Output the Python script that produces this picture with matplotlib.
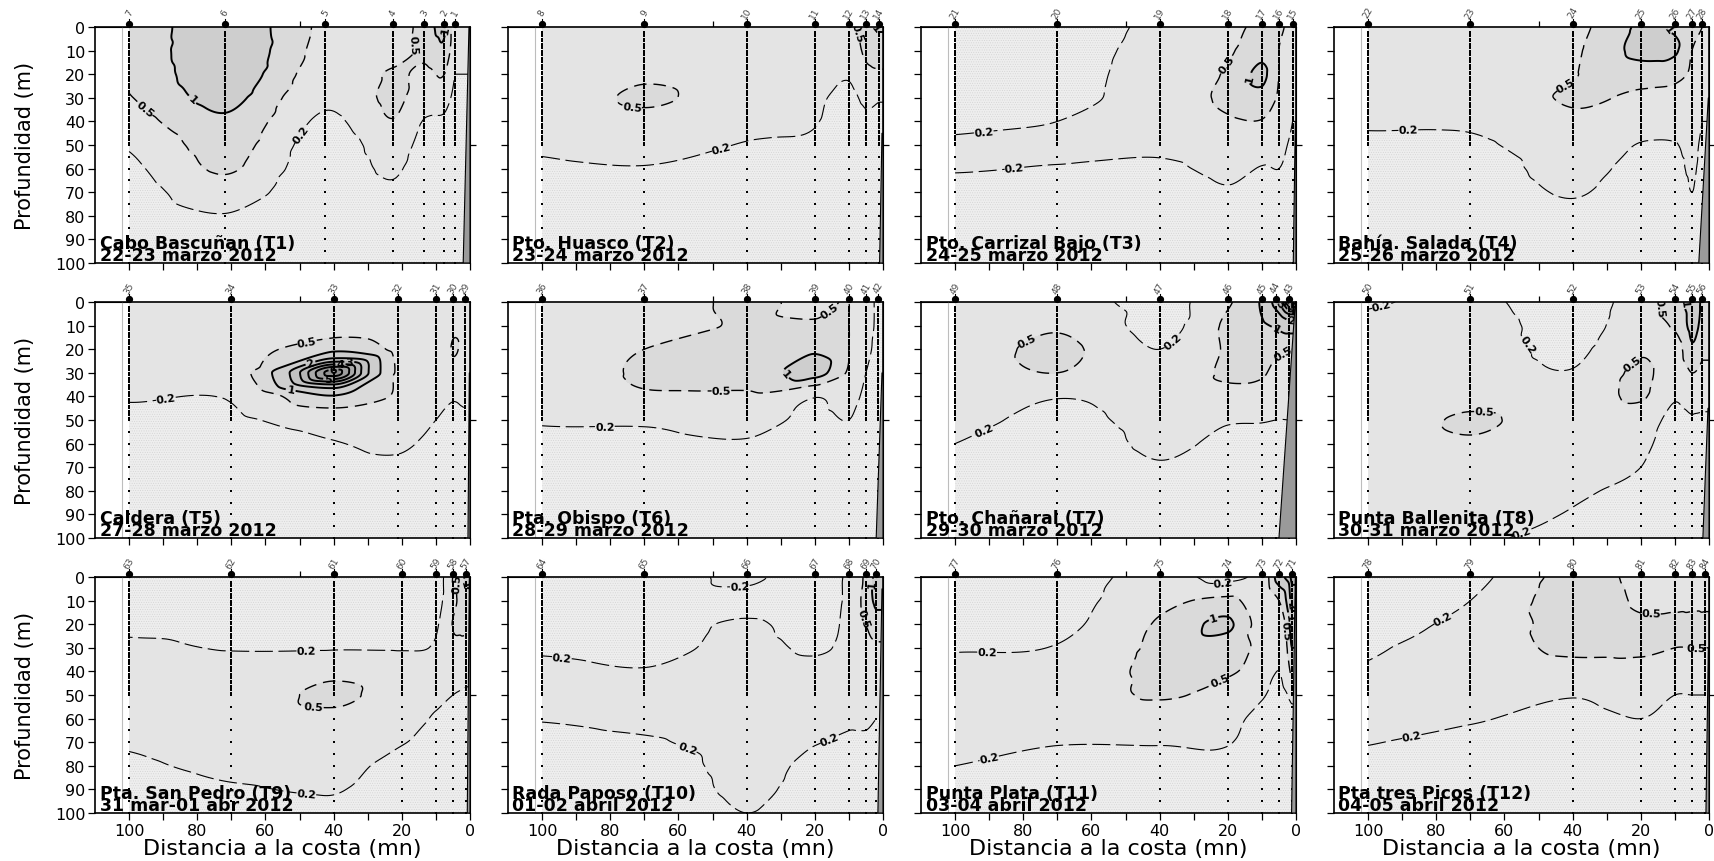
import numpy as np
import matplotlib
matplotlib.use("Agg")
import matplotlib.pyplot as plt
import matplotlib.tri as mtri
from matplotlib.patches import Polygon

plt.rcParams['font.family'] = ['DejaVu Sans']
plt.rcParams['lines.scale_dashes'] = False
plt.rcParams['hatch.color'] = '#d2d2d2'
plt.rcParams['hatch.linewidth'] = 0.35

# Sampling depths (m) shared by every profile
DEPTHS = [0, 10, 20, 30, 40, 50, 60, 70, 80, 90, 100]

# ---- Transect metadata -------------------------------------------------
titles = ["Cabo Bascuñan (T1)", "Pto. Huasco (T2)", "Pto. Carrizal Bajo (T3)",
          "Bahía. Salada (T4)", "Caldera (T5)", "Pta. Obispo (T6)",
          "Pto. Chañaral (T7)", "Punta Ballenita (T8)", "Pta. San Pedro (T9)",
          "Rada Paposo (T10)", "Punta Plata (T11)", "Pta tres Picos (T12)"]
dates = ["22-23 marzo 2012", "23-24 marzo 2012", "24-25 marzo 2012",
         "25-26 marzo 2012", "27-28 marzo 2012", "28-29 marzo 2012",
         "29-30 marzo 2012", "30-31 marzo 2012", "31 mar-01 abr 2012",
         "01-02 abril 2012", "03-04 abril 2012", "04-05 abril 2012"]

# Station numbers (offshore -> coast) and distance to coast (mn)
stations_t1 = [7, 6, 5, 4, 3, 2, 1]
dist_t1 = [100, 72, 42.5, 22.6, 13.4, 7.5, 4.4]
stations_t2 = [8, 9, 10, 11, 12, 13, 14]
dist_t2 = [100, 70, 40, 20, 10, 5, 1.2]
stations_t3 = [21, 20, 19, 18, 17, 16, 15]
dist_t3 = [100, 70, 40, 20, 10, 5, 1]
stations_t4 = [22, 23, 24, 25, 26, 27, 28]
dist_t4 = [100, 70, 40, 20, 10, 5, 2]
stations_t5 = [35, 34, 33, 32, 31, 30, 29]
dist_t5 = [100, 70, 40, 21, 10, 5, 1.5]
stations_t6 = [36, 37, 38, 39, 40, 41, 42]
dist_t6 = [100, 70, 40, 20, 10, 5, 1.4]
stations_t7 = [49, 48, 47, 46, 45, 44, 43]
dist_t7 = [100, 70, 40, 20, 10, 6, 2]
stations_t8 = [50, 51, 52, 53, 54, 55, 56]
dist_t8 = [100, 70, 40, 20, 10, 5, 2]
stations_t9 = [63, 62, 61, 60, 59, 58, 57]
dist_t9 = [100, 70, 40, 20, 10, 5, 1.2]
stations_t10 = [64, 65, 66, 67, 68, 69, 70]
dist_t10 = [100, 70, 40, 20, 10, 5, 2]
stations_t11 = [77, 76, 75, 74, 73, 72, 71]
dist_t11 = [100, 70, 40, 20, 10, 5, 1.3]
stations_t12 = [78, 79, 80, 81, 82, 83, 84]
dist_t12 = [100, 70, 40, 20, 10, 5, 1.1]

# Chlorophyll-a (mg/m3): one profile per station, values at DEPTHS
chl_t1 = [[0.62, 0.60, 0.55, 0.48, 0.35, 0.22, 0.16, 0.12, 0.10, 0.08, 0.07],
          [1.5, 1.6, 1.5, 1.2, 0.9, 0.7, 0.55, 0.35, 0.19, 0.12, 0.10],
          [0.42, 0.38, 0.32, 0.24, 0.17, 0.12, 0.10, 0.08, 0.07, 0.06, 0.05],
          [0.30, 0.35, 0.55, 0.60, 0.48, 0.32, 0.24, 0.16, 0.11, 0.09, 0.07],
          [0.70, 0.60, 0.42, 0.30, 0.19, 0.14, 0.10, 0.08, 0.07, 0.06, 0.05],
          [1.1, 0.85, 0.50, 0.28, 0.17, 0.12, 0.10, 0.08, 0.07, 0.06, 0.05],
          [0.30, 0.25, 0.20, 0.15, 0.12, 0.10, 0.08, 0.07, 0.06, 0.05, 0.05]]
chl_t2 = [[0.30, 0.30, 0.30, 0.30, 0.28, 0.23, 0.17, 0.12, 0.10, 0.08, 0.07],
          [0.35, 0.38, 0.45, 0.55, 0.40, 0.28, 0.19, 0.13, 0.10, 0.08, 0.07],
          [0.30, 0.30, 0.30, 0.30, 0.25, 0.19, 0.13, 0.10, 0.08, 0.07, 0.06],
          [0.30, 0.30, 0.28, 0.23, 0.21, 0.17, 0.12, 0.10, 0.08, 0.07, 0.06],
          [0.40, 0.30, 0.22, 0.16, 0.12, 0.10, 0.08, 0.07, 0.06, 0.05, 0.05],
          [0.80, 0.60, 0.40, 0.25, 0.16, 0.12, 0.10, 0.08, 0.07, 0.06, 0.05],
          [1.1, 0.70, 0.45, 0.22, 0.15, 0.12, 0.10, 0.08, 0.07, 0.06, 0.05]]
chl_t3 = [[0.12, 0.13, 0.14, 0.15, 0.17, 0.22, 0.21, 0.15, 0.12, 0.10, 0.08],
          [0.13, 0.14, 0.15, 0.16, 0.20, 0.24, 0.19, 0.14, 0.11, 0.09, 0.08],
          [0.25, 0.28, 0.30, 0.30, 0.30, 0.24, 0.17, 0.12, 0.10, 0.08, 0.07],
          [0.40, 0.45, 0.55, 0.60, 0.45, 0.32, 0.25, 0.18, 0.12, 0.10, 0.08],
          [0.60, 0.80, 1.15, 0.80, 0.48, 0.30, 0.19, 0.13, 0.10, 0.08, 0.07],
          [0.55, 0.50, 0.50, 0.45, 0.35, 0.26, 0.20, 0.14, 0.10, 0.08, 0.07],
          [0.40, 0.32, 0.30, 0.25, 0.20, 0.15, 0.12, 0.10, 0.08, 0.07, 0.06]]
chl_t4 = [[0.30, 0.30, 0.30, 0.28, 0.22, 0.17, 0.12, 0.10, 0.08, 0.07, 0.06],
          [0.30, 0.30, 0.30, 0.30, 0.23, 0.17, 0.12, 0.10, 0.08, 0.07, 0.06],
          [0.40, 0.45, 0.48, 0.55, 0.42, 0.35, 0.30, 0.22, 0.15, 0.10, 0.08],
          [1.1, 1.2, 0.70, 0.42, 0.30, 0.19, 0.13, 0.10, 0.08, 0.07, 0.06],
          [0.90, 1.1, 0.60, 0.40, 0.30, 0.19, 0.14, 0.10, 0.08, 0.07, 0.06],
          [0.60, 0.50, 0.45, 0.35, 0.30, 0.27, 0.24, 0.20, 0.15, 0.10, 0.08],
          [0.50, 0.40, 0.30, 0.25, 0.20, 0.15, 0.12, 0.10, 0.08, 0.07, 0.06]]
chl_t5 = [[0.30, 0.30, 0.30, 0.30, 0.22, 0.15, 0.10, 0.08, 0.07, 0.06, 0.05],
          [0.30, 0.30, 0.35, 0.35, 0.22, 0.17, 0.12, 0.10, 0.08, 0.07, 0.06],
          [0.30, 0.35, 0.85, 6.5, 0.95, 0.30, 0.19, 0.14, 0.10, 0.08, 0.07],
          [0.35, 0.30, 0.40, 0.45, 0.45, 0.35, 0.24, 0.16, 0.12, 0.10, 0.08],
          [0.30, 0.30, 0.30, 0.30, 0.25, 0.20, 0.14, 0.10, 0.08, 0.07, 0.06],
          [0.40, 0.45, 0.52, 0.40, 0.22, 0.15, 0.11, 0.09, 0.07, 0.06, 0.05],
          [0.40, 0.40, 0.40, 0.35, 0.25, 0.16, 0.12, 0.09, 0.07, 0.06, 0.05]]
chl_t6 = [[0.30, 0.30, 0.30, 0.30, 0.30, 0.22, 0.15, 0.10, 0.08, 0.07, 0.06],
          [0.30, 0.32, 0.50, 0.55, 0.45, 0.23, 0.15, 0.11, 0.09, 0.07, 0.06],
          [0.60, 0.55, 0.60, 0.60, 0.45, 0.30, 0.18, 0.12, 0.10, 0.08, 0.07],
          [0.40, 0.55, 0.90, 1.3, 0.21, 0.15, 0.10, 0.08, 0.07, 0.06, 0.05],
          [0.50, 0.50, 0.50, 0.45, 0.30, 0.20, 0.14, 0.10, 0.08, 0.07, 0.06],
          [0.30, 0.30, 0.25, 0.20, 0.15, 0.10, 0.08, 0.07, 0.06, 0.05, 0.05],
          [0.15, 0.15, 0.15, 0.12, 0.10, 0.08, 0.07, 0.06, 0.05, 0.05, 0.05]]
chl_t7 = [[0.30, 0.30, 0.30, 0.30, 0.30, 0.28, 0.20, 0.15, 0.10, 0.08, 0.07],
          [0.30, 0.45, 0.60, 0.50, 0.21, 0.15, 0.11, 0.09, 0.07, 0.06, 0.05],
          [0.15, 0.15, 0.20, 0.30, 0.35, 0.30, 0.25, 0.18, 0.12, 0.10, 0.08],
          [0.45, 0.60, 0.55, 0.55, 0.40, 0.22, 0.15, 0.11, 0.09, 0.07, 0.06],
          [1.1, 0.90, 0.60, 0.55, 0.35, 0.21, 0.15, 0.11, 0.09, 0.07, 0.06],
          [2.5, 1.1, 0.60, 0.40, 0.30, 0.20, 0.15, 0.11, 0.09, 0.07, 0.06],
          [6.5, 1.5, 0.50, 0.35, 0.25, 0.20, 0.15, 0.11, 0.09, 0.07, 0.06]]
chl_t8 = [[0.18, 0.25, 0.30, 0.30, 0.30, 0.30, 0.30, 0.30, 0.30, 0.25, 0.22],
          [0.25, 0.30, 0.30, 0.30, 0.38, 0.55, 0.45, 0.30, 0.25, 0.25, 0.22],
          [0.12, 0.14, 0.17, 0.21, 0.30, 0.30, 0.28, 0.25, 0.22, 0.19, 0.15],
          [0.35, 0.38, 0.45, 0.60, 0.55, 0.32, 0.25, 0.20, 0.15, 0.12, 0.10],
          [0.70, 0.55, 0.35, 0.30, 0.22, 0.15, 0.12, 0.10, 0.08, 0.07, 0.06],
          [1.3, 1.2, 0.90, 0.50, 0.30, 0.18, 0.13, 0.10, 0.08, 0.07, 0.06],
          [0.90, 0.80, 0.60, 0.40, 0.25, 0.18, 0.13, 0.10, 0.08, 0.07, 0.06]]
chl_t9 = [[0.15, 0.15, 0.16, 0.24, 0.30, 0.30, 0.30, 0.22, 0.17, 0.12, 0.10],
          [0.10, 0.12, 0.15, 0.19, 0.30, 0.30, 0.30, 0.30, 0.25, 0.18, 0.12],
          [0.10, 0.12, 0.15, 0.19, 0.40, 0.60, 0.40, 0.30, 0.25, 0.21, 0.17],
          [0.10, 0.12, 0.15, 0.19, 0.30, 0.30, 0.30, 0.21, 0.15, 0.12, 0.10],
          [0.15, 0.15, 0.18, 0.22, 0.30, 0.25, 0.18, 0.15, 0.12, 0.10, 0.10],
          [0.35, 0.40, 0.52, 0.40, 0.30, 0.20, 0.15, 0.12, 0.10, 0.08, 0.07],
          [1.2, 0.80, 0.60, 0.40, 0.25, 0.18, 0.13, 0.10, 0.08, 0.07, 0.06]]
chl_t10 = [[0.10, 0.12, 0.15, 0.18, 0.25, 0.30, 0.21, 0.15, 0.12, 0.10, 0.10],
           [0.10, 0.12, 0.15, 0.16, 0.21, 0.30, 0.25, 0.18, 0.12, 0.10, 0.08],
           [0.25, 0.15, 0.22, 0.25, 0.30, 0.30, 0.30, 0.30, 0.28, 0.25, 0.20],
           [0.10, 0.12, 0.15, 0.18, 0.25, 0.30, 0.30, 0.21, 0.15, 0.12, 0.10],
           [0.25, 0.25, 0.25, 0.25, 0.25, 0.25, 0.22, 0.18, 0.14, 0.12, 0.10],
           [0.60, 0.70, 0.50, 0.40, 0.30, 0.25, 0.22, 0.18, 0.15, 0.12, 0.10],
           [1.3, 1.2, 0.70, 0.45, 0.30, 0.25, 0.20, 0.16, 0.13, 0.10, 0.08]]
chl_t11 = [[0.12, 0.14, 0.16, 0.19, 0.25, 0.30, 0.30, 0.25, 0.20, 0.15, 0.12],
           [0.12, 0.14, 0.16, 0.21, 0.30, 0.30, 0.30, 0.21, 0.15, 0.12, 0.10],
           [0.30, 0.40, 0.55, 0.60, 0.60, 0.55, 0.30, 0.21, 0.15, 0.12, 0.10],
           [0.15, 0.60, 1.1, 0.70, 0.55, 0.35, 0.25, 0.21, 0.15, 0.12, 0.10],
           [0.30, 0.30, 0.35, 0.40, 0.35, 0.22, 0.15, 0.12, 0.10, 0.08, 0.07],
           [1.5, 0.50, 0.30, 0.25, 0.20, 0.15, 0.12, 0.10, 0.08, 0.07, 0.06],
           [3.5, 2.5, 1.5, 1.0, 0.60, 0.25, 0.15, 0.12, 0.10, 0.08, 0.07]]
chl_t12 = [[0.10, 0.12, 0.15, 0.18, 0.22, 0.30, 0.30, 0.21, 0.15, 0.12, 0.10],
           [0.15, 0.20, 0.25, 0.30, 0.30, 0.30, 0.22, 0.15, 0.12, 0.10, 0.10],
           [0.70, 0.80, 0.70, 0.60, 0.35, 0.21, 0.15, 0.12, 0.10, 0.10, 0.10],
           [0.40, 0.45, 0.55, 0.60, 0.35, 0.30, 0.20, 0.15, 0.12, 0.10, 0.10],
           [0.45, 0.45, 0.55, 0.50, 0.30, 0.20, 0.15, 0.12, 0.10, 0.08, 0.07],
           [0.40, 0.45, 0.55, 0.50, 0.30, 0.20, 0.15, 0.12, 0.10, 0.08, 0.07],
           [0.40, 0.45, 0.55, 0.50, 0.30, 0.20, 0.15, 0.12, 0.10, 0.08, 0.07]]

# Shelf/slope bottom near the coast: (distance, depth) at top and at 100 m
coast_t1 = [(0.3, 0), (2.0, 100)]
coast_t2 = [(0.3, 45), (1.0, 100)]
coast_t3 = [(0.2, 40), (0.8, 100)]
coast_t4 = [(0.2, 30), (3.0, 100)]
coast_t5 = [(0.2, 30), (0.6, 100)]
coast_t6 = [(0.3, 30), (2.0, 100)]
coast_t7 = [(0.2, 0), (5.0, 100)]
coast_t8 = [(0.3, 45), (1.8, 100)]
coast_t9 = [(0.2, 0), (0.8, 100)]
coast_t10 = [(0.3, 5), (1.5, 100)]
coast_t11 = [(0.2, 0), (1.3, 100)]
coast_t12 = [(0.2, 30), (0.9, 100)]

transects = [
    (stations_t1, dist_t1, chl_t1, coast_t1), (stations_t2, dist_t2, chl_t2, coast_t2),
    (stations_t3, dist_t3, chl_t3, coast_t3), (stations_t4, dist_t4, chl_t4, coast_t4),
    (stations_t5, dist_t5, chl_t5, coast_t5), (stations_t6, dist_t6, chl_t6, coast_t6),
    (stations_t7, dist_t7, chl_t7, coast_t7), (stations_t8, dist_t8, chl_t8, coast_t8),
    (stations_t9, dist_t9, chl_t9, coast_t9), (stations_t10, dist_t10, chl_t10, coast_t10),
    (stations_t11, dist_t11, chl_t11, coast_t11), (stations_t12, dist_t12, chl_t12, coast_t12),
]

# Contour classes
line_values = [0.2, 0.5, 1, 2, 3, 4, 5, 6]
fill_values = [1e-3, 0.2, 0.5, 1, 2, 3, 4, 5, 6, 1e3]
fill_colors = ['#eeeeee', '#e4e4e4', '#dadada', '#cecece', '#c2c2c2',
               '#b6b6b6', '#aaaaaa', '#9e9e9e', '#929292']


def gridded_section(dist, chl):
    """Cubic interpolation of log10(chl) over a triangulated station/depth grid."""
    order = np.argsort(dist)
    d = np.asarray(dist, float)[order]
    v = np.asarray(chl, float)[order]
    u = np.sqrt(d)
    z = np.asarray(DEPTHS, float) / 10.0
    U, Z = np.meshgrid(u, z, indexing='ij')
    nst, nd = U.shape
    tris = []
    for i in range(nst - 1):
        for j in range(nd - 1):
            a, b = i * nd + j, (i + 1) * nd + j
            c, e = (i + 1) * nd + j + 1, i * nd + j + 1
            tris += [[a, b, c], [a, c, e]]
    tri = mtri.Triangulation(U.ravel(), Z.ravel(), np.array(tris))
    interp = mtri.CubicTriInterpolator(tri, np.log10(v).ravel(), kind='geom')
    xs = np.linspace(0, 100, 501)
    ds = np.linspace(0, 100, 301)
    uq = np.clip(np.sqrt(xs), u.min() + 1e-7, u.max() - 1e-7)
    zq = np.clip(ds / 10.0, 1e-7, 10 - 1e-7)
    UQ, ZQ = np.meshgrid(uq, zq)
    F = interp(UQ, ZQ)
    F = np.ma.filled(F, np.nan)
    F = np.clip(F, -2.9, 2.9)
    X, Y = np.meshgrid(xs, ds)
    return X, Y, F


def level_label(lv):
    val = 10 ** lv
    return f"{val:.1f}" if val < 0.99 else f"{val:.0f}"


W, H = 1714, 862
fig = plt.figure(figsize=(W / 100, H / 100), dpi=100)
col_left = [95, 508, 921, 1334]
row_top = [28, 303, 578]
ax_w, ax_h = 375, 236

for k, (stn, dist, chl, coast) in enumerate(transects):
    r, c = divmod(k, 4)
    ax = fig.add_axes([col_left[c] / W, 1 - (row_top[r] + ax_h) / H, ax_w / W, ax_h / H])
    X, Y, F = gridded_section(dist, chl)

    hatches = ['.......'] + [None] * (len(fill_colors) - 1)
    ax.contourf(X, Y, F, levels=np.log10(fill_values), colors=fill_colors,
                hatches=hatches, zorder=1)

    styles, widths = [], []
    for v in line_values:
        if v < 0.3:
            styles.append((0, (13, 4)))
            widths.append(0.8)
        elif v < 0.9:
            styles.append((0, (9, 5)))
            widths.append(1.0)
        else:
            styles.append('solid')
            widths.append(1.4)
    cs = ax.contour(X, Y, F, levels=np.log10(line_values), colors='black',
                    linestyles=styles, linewidths=widths, zorder=2)
    labels = ax.clabel(cs, inline=True, fontsize=8, fmt=level_label, inline_spacing=2)
    for t in labels:
        t.set_fontweight('bold')

    # Sampling stations: bottle depths and top markers
    dense = np.arange(2, 51, 1)
    sparse = np.arange(55, 101, 5)
    for s, x in zip(stn, dist):
        ax.plot(np.full(dense.shape, x), dense, ls='none', marker='s', ms=1.8,
                mew=0, color='black', zorder=3)
        ax.plot(np.full(sparse.shape, x), sparse, ls='none', marker='s', ms=2.0,
                mew=0, color='black', zorder=3)
        ax.plot([x, x], [-1.3, -3.3], color='black', lw=0.8, clip_on=False, zorder=5)
        ax.plot([x], [-1.3], marker='o', ms=4.2, color='black', clip_on=False, zorder=5)
        ax.text(x, -6.2, str(s), rotation=60, fontsize=6.5, ha='center', va='center',
                color='#444444', clip_on=False)

    # Bottom profile at the coast
    (xt, dt), (xb, db) = coast
    ax.add_patch(Polygon([(xt, dt), (xb, db), (0, db), (0, dt)], closed=True,
                         facecolor='#9a9a9a', edgecolor='black', lw=0.8, zorder=4))

    ax.axvline(102, color='#bdbdbd', lw=0.8, zorder=2)

    ax.set_xlim(110, 0)
    ax.set_ylim(100, 0)
    ax.set_xticks(np.arange(0, 101, 10))
    ax.set_yticks(np.arange(0, 101, 10))
    if r == 2:
        ax.set_xticklabels([str(v) if v % 20 == 0 else '' for v in range(0, 101, 10)],
                           fontsize=11.5)
    else:
        ax.set_xticklabels([])
    if c == 0:
        ax.set_yticklabels([str(v) for v in range(0, 101, 10)], fontsize=11.5)
    else:
        ax.set_yticklabels([])
    ax.tick_params(direction='out', length=5, width=0.9, pad=2)
    for sp in ax.spines.values():
        sp.set_linewidth(1.2)

    top = ax.secondary_xaxis('top')
    top.set_xticks([50])
    top.set_xticklabels([])
    top.tick_params(direction='out', length=4, width=0.9)
    right = ax.secondary_yaxis('right')
    right.set_yticks([50])
    right.set_yticklabels([])
    right.tick_params(direction='out', length=4, width=0.9)

    # Transect name and survey dates, stacked tightly in the lower-left corner
    ax.text(0.012, 0.012, titles[k] + "\n" + dates[k], transform=ax.transAxes,
            fontsize=12.5, fontweight='bold', ha='left', va='baseline',
            linespacing=0.6, zorder=6)

    if c == 0:
        fig.text(25 / W, 1 - (row_top[r] + ax_h / 2) / H, "Profundidad (m)",
                 rotation=90, ha='center', va='center', fontsize=15,
                 family=['Liberation Sans Narrow', 'DejaVu Sans'])
    if r == 2:
        fig.text((col_left[c] + ax_w / 2) / W, 1 - 849 / H, "Distancia a la costa (mn)",
                 ha='center', va='center', fontsize=16)

fig.savefig('out.png', dpi=100)
